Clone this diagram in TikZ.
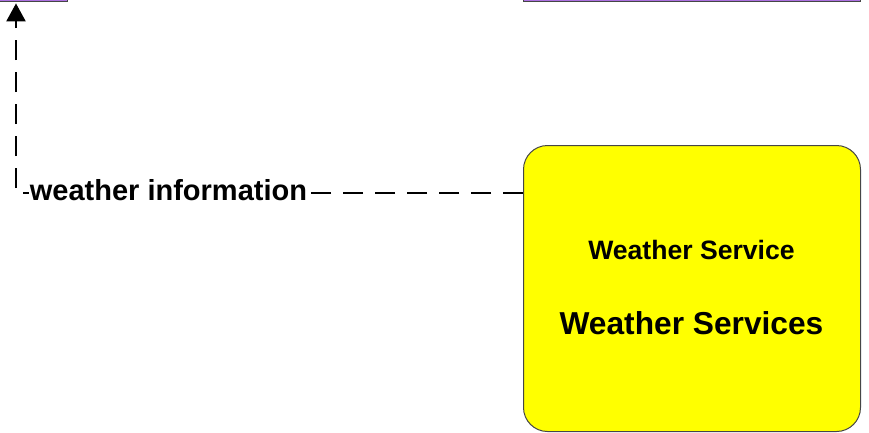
\documentclass[tikz,border=0pt]{standalone}
\usepackage{fontspec}
\setmainfont{Liberation Sans}
\usetikzlibrary{arrows.meta}
\definecolor{boxpurple}{RGB}{172,112,224}
\definecolor{boxedge}{RGB}{70,70,70}
\definecolor{wsyellow}{RGB}{255,255,0}
\tikzset{
  topbox/.style={draw=boxedge, line width=1pt, fill=boxpurple, inner sep=0pt},
  servicebox/.style={draw=boxedge, line width=1pt, fill=wsyellow, rounded corners=24pt, inner sep=0pt},
  flowline/.style={line width=2.4pt, dash pattern=on 20pt off 12pt, -{Triangle[length=18pt,width=19pt]}},
  flowlabel/.style={fill=white, inner sep=0.5pt, font=\bfseries\fontsize{29}{29}\selectfont, anchor=base},
  smalltitle/.style={font=\bfseries\fontsize{26.6}{27}\selectfont, anchor=base},
  bigtitle/.style={font=\bfseries\fontsize{31.7}{32}\selectfont, anchor=base}
}
\begin{document}
\begin{tikzpicture}[x=1pt,y=-1pt]
\useasboundingbox (0,0) rectangle (869,432);
% partially visible boxes at the top
\node[topbox, minimum width=90pt, minimum height=60pt, anchor=south east] (tl) at (68,2.2) {};
\node[topbox, minimum width=337pt, minimum height=60pt, anchor=south west] (tr) at (523,2.2) {};
% weather service box
\node[servicebox, minimum width=337pt, minimum height=286pt, anchor=north west] (ws) at (523,145) {};
\node[smalltitle] (wst) at (691.5,259) {Weather Service};
\node[bigtitle] (wsn) at (691.5,334) {Weather Services};
% connector
\coordinate (corner) at (16,193);
\draw[flowline, shorten >=1.2pt] (ws.west |- corner) -- (corner) -- (tl.south -| corner);
\node[flowlabel] (lbl) at (168.5,200) {weather information};
\end{tikzpicture}
\end{document}
